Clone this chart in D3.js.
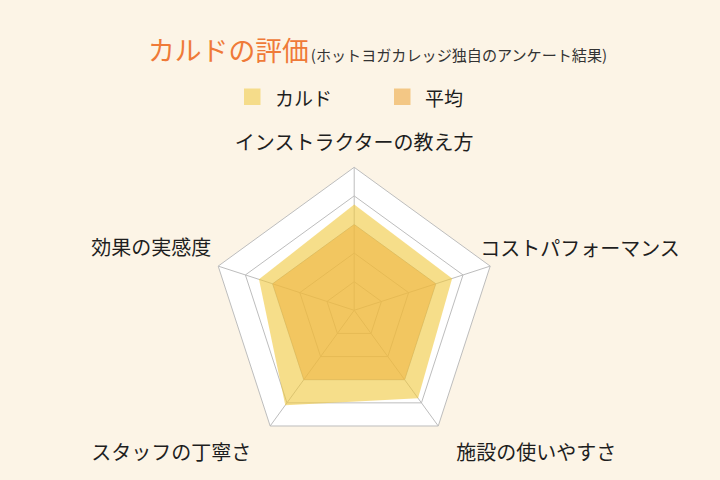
<!DOCTYPE html>
<html>
<head>
<meta charset="utf-8">
<script src="https://cdn.jsdelivr.net/npm/d3@7"></script>
<style>
  html, body { margin: 0; padding: 0; background: #fcf4e6; }
  svg { display: block; }
  text { font-family: "Noto Sans CJK JP", "Noto Sans", sans-serif; }
</style>
</head>
<body>
<svg id="chart" width="720" height="480"></svg>
<script>
// ---- data ----
const axes = ["インストラクターの教え方", "コストパフォーマンス", "施設の使いやすさ", "スタッフの丁寧さ", "効果の実感度"];
const seriesNames = ["カルド", "平均"];
const karudoValues = [3.7, 3.6, 3.8, 4.1, 3.5];
const averageValues = [3.0, 3.0, 3.0, 3.0, 3.0];
const gridTicks = [1, 2, 3, 4, 5];
const maxValue = 5;

const titleText = "カルドの評価";
const subtitleText = "(ホットヨガカレッジ独自のアンケート結果)";

// ---- layout / style ----
const W = 720, H = 480;
const cx = 354.2, cy = 310.3, R = 143;
const colors = {
  bg: "#fcf4e6",
  grid: "#bdbdbd",
  karudo: "rgba(240,200,60,0.6)",
  average: "rgba(238,178,62,0.55)",
  legendKarudo: "#f5dc8a",
  legendAverage: "#f3c785",
  title: "#ef7a38",
  text: "#1e1e1e"
};
// label placement relative to each outer vertex: [dx, dy, anchor]
const labelPlacement = [
  [0, -26, "middle"],
  [-10, -19, "start"],
  [18, 26, "start"],
  [-19, 26, "end"],
  [-7, -20, "end"]
];

const svg = d3.select("#chart");
svg.append("rect").attr("width", W).attr("height", H).attr("fill", colors.bg);

const rScale = d3.scaleLinear().domain([0, maxValue]).range([0, R]);
const angle = d3.scaleLinear().domain([0, axes.length]).range([0, 2 * Math.PI]);

const radial = d3.lineRadial()
  .angle((d, i) => angle(i))
  .radius(d => rScale(d))
  .curve(d3.curveLinearClosed);

const g = svg.append("g").attr("transform", `translate(${cx},${cy})`);

// outer white area
g.append("path")
  .attr("d", radial(axes.map(() => maxValue)))
  .attr("fill", "#ffffff");

// grid rings
gridTicks.forEach(t => {
  g.append("path")
    .attr("d", radial(axes.map(() => t)))
    .attr("fill", "none")
    .attr("stroke", colors.grid)
    .attr("stroke-width", 1);
});

// spokes
const pt = (i, v) => {
  const a = angle(i);
  return [Math.sin(a) * rScale(v), -Math.cos(a) * rScale(v)];
};
axes.forEach((a, i) => {
  const [x, y] = pt(i, maxValue);
  g.append("line")
    .attr("x1", 0).attr("y1", 0).attr("x2", x).attr("y2", y)
    .attr("stroke", colors.grid).attr("stroke-width", 1);
});

// series
g.append("path")
  .attr("d", radial(karudoValues))
  .attr("fill", colors.karudo);
g.append("path")
  .attr("d", radial(averageValues))
  .attr("fill", colors.average);

// axis labels
axes.forEach((label, i) => {
  const [x, y] = pt(i, maxValue);
  const [dx, dy, anchor] = labelPlacement[i];
  g.append("text")
    .attr("x", x + dx).attr("y", y + dy)
    .attr("text-anchor", anchor)
    .attr("dominant-baseline", "central")
    .attr("font-size", 20)
    .attr("fill", colors.text)
    .text(label);
});

// title
const title = svg.append("text")
  .attr("x", 148).attr("y", 61)
  .attr("fill", colors.title);
title.append("tspan").attr("font-size", 26.8).text(titleText);
title.append("tspan").attr("dx", 2).attr("font-size", 15.1).attr("fill", "#333").text(subtitleText);

// legend
const legendItems = [
  { name: seriesNames[0], color: colors.legendKarudo, x: 244 },
  { name: seriesNames[1], color: colors.legendAverage, x: 394 }
];
legendItems.forEach(d => {
  svg.append("rect")
    .attr("x", d.x).attr("y", 88.5)
    .attr("width", 16.5).attr("height", 16.5)
    .attr("fill", d.color);
  svg.append("text")
    .attr("x", d.x + 31).attr("y", 97)
    .attr("dominant-baseline", "central")
    .attr("font-size", 19)
    .attr("fill", colors.text)
    .text(d.name);
});
</script>
</body>
</html>
